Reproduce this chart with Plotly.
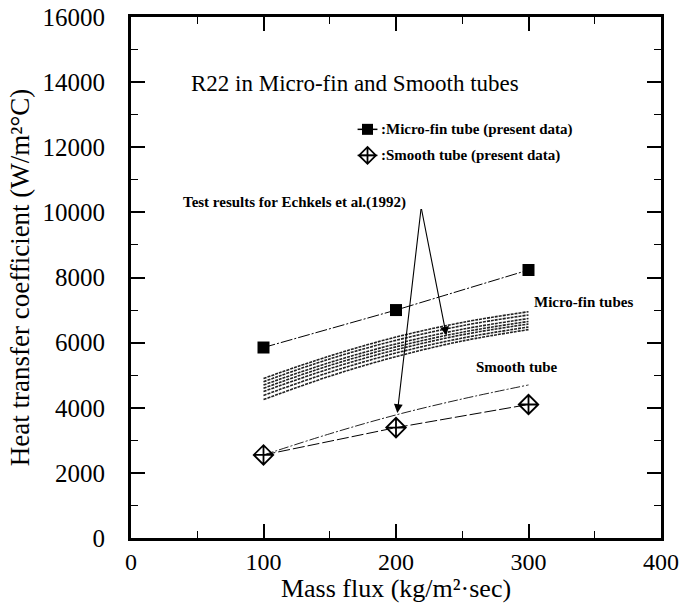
import plotly.graph_objects as go

# ---- data ----
mass_flux = [100, 200, 300]
microfin_present = [5850, 7000, 8230]
smooth_present = [2550, 3390, 4100]

band_x = [100, 150, 200, 250, 300]
microfin_band = [
    [4250, 4970, 5570, 6050, 6400],
    [4380, 5090, 5680, 6140, 6480],
    [4500, 5200, 5780, 6240, 6570],
    [4600, 5300, 5870, 6320, 6650],
    [4700, 5390, 5960, 6410, 6740],
    [4800, 5500, 6070, 6520, 6850],
    [4900, 5590, 6170, 6620, 6950],
]
smooth_echkels = [2550, 3200, 3780, 4270, 4700]

x_ticks = [0, 100, 200, 300, 400]
y_ticks = [0, 2000, 4000, 6000, 8000, 10000, 12000, 14000, 16000]

SERIF = "Liberation Serif, Times New Roman, serif"

fig = go.Figure()

for ys in microfin_band:
    fig.add_trace(go.Scatter(x=band_x, y=ys, mode="lines",
                             line=dict(color="#222", width=1.6, dash="3px,1px"),
                             line_shape="spline", showlegend=False, hoverinfo="skip"))

fig.add_trace(go.Scatter(x=band_x, y=smooth_echkels, mode="lines",
                         line=dict(color="#222", width=1, dash="10px,2px,2px,2px"),
                         line_shape="spline", showlegend=False))

fig.add_trace(go.Scatter(x=mass_flux, y=microfin_present, mode="lines+markers",
                         line=dict(color="black", width=1, dash="12px,2px,2px,2px"),
                         marker=dict(symbol="square", size=12, color="black"),
                         showlegend=False))

fig.add_trace(go.Scatter(x=mass_flux, y=smooth_present, mode="lines+markers",
                         line=dict(color="black", width=1, dash="12px,3px"),
                         marker=dict(symbol="diamond-cross-open", size=15, color="black",
                                     line=dict(width=1.8, color="black")),
                         showlegend=False))

# legend-like samples
leg_y = [12550, 11750]
fig.add_trace(go.Scatter(x=[171, 186], y=[leg_y[0]] * 2, mode="lines",
                         line=dict(color="black", width=1.5), showlegend=False))
fig.add_trace(go.Scatter(x=[178.5], y=[leg_y[0]], mode="markers",
                         marker=dict(symbol="square", size=11, color="black"), showlegend=False))
fig.add_trace(go.Scatter(x=[171, 186], y=[leg_y[1]] * 2, mode="lines",
                         line=dict(color="black", width=1.5), showlegend=False))
fig.add_trace(go.Scatter(x=[178.5], y=[leg_y[1]], mode="markers",
                         marker=dict(symbol="diamond-cross-open", size=13, color="black",
                                     line=dict(width=1.8, color="black")), showlegend=False))

ann = []
ann.append(dict(x=44, y=13950, text="R22 in Micro-fin and Smooth tubes", showarrow=False,
                xanchor="left", yanchor="middle", font=dict(family=SERIF, size=23, color="black")))
ann.append(dict(x=187, y=leg_y[0], text="<b>:Micro-fin tube (present data)</b>", showarrow=False,
                xanchor="left", yanchor="middle", font=dict(family=SERIF, size=15, color="black")))
ann.append(dict(x=187, y=leg_y[1], text="<b>:Smooth tube (present data)</b>", showarrow=False,
                xanchor="left", yanchor="middle", font=dict(family=SERIF, size=15, color="black")))
ann.append(dict(x=38, y=10300, text="<b>Test results for Echkels et al.(1992)</b>", showarrow=False,
                xanchor="left", yanchor="middle", font=dict(family=SERIF, size=15, color="black")))
ann.append(dict(x=303, y=7250, text="<b>Micro-fin tubes</b>", showarrow=False,
                xanchor="left", yanchor="middle", font=dict(family=SERIF, size=15, color="black")))
ann.append(dict(x=259, y=5250, text="<b>Smooth tube</b>", showarrow=False,
                xanchor="left", yanchor="middle", font=dict(family=SERIF, size=15, color="black")))
for tip in [(201, 3840), (238, 6220)]:
    ann.append(dict(x=tip[0], y=tip[1], ax=219, ay=10150, xref="x", yref="y",
                    axref="x", ayref="y", text="", showarrow=True, arrowhead=2,
                    arrowsize=1.6, arrowwidth=1.1, arrowcolor="black", standoff=0))

axis_common = dict(showline=True, linewidth=3, linecolor="black", mirror="ticks",
                   ticks="inside", tickwidth=1.5, tickcolor="black", showgrid=False,
                   zeroline=False, automargin=False)

fig.update_layout(
    width=683, height=603,
    margin=dict(l=131, r=22, t=17, b=65),
    paper_bgcolor="white", plot_bgcolor="white",
    showlegend=False,
    annotations=ann,
    xaxis=dict(range=[0, 400], tickvals=x_ticks, ticktext=[str(v) for v in x_ticks],
               ticklen=14, ticklabelstandoff=0,
               tickfont=dict(family=SERIF, size=24, color="black"),
               minor=dict(dtick=50, ticklen=7, ticks="inside", tickwidth=1.2, tickcolor="black"),
               title=dict(text="Mass flux (kg/m²·sec)", standoff=3,
                          font=dict(family=SERIF, size=26, color="black")),
               **axis_common),
    yaxis=dict(range=[0, 16000], tickvals=y_ticks, ticktext=[str(v) for v in y_ticks],
               ticklen=14, ticklabelstandoff=18,
               tickfont=dict(family=SERIF, size=25, color="black"),
               minor=dict(dtick=1000, ticklen=7, ticks="inside", tickwidth=1.2, tickcolor="black"),
               title=dict(text="Heat transfer coefficient (W/m²°C)", standoff=6,
                          font=dict(family=SERIF, size=27, color="black")),
               **axis_common),
)

fig.write_html("out.html")
